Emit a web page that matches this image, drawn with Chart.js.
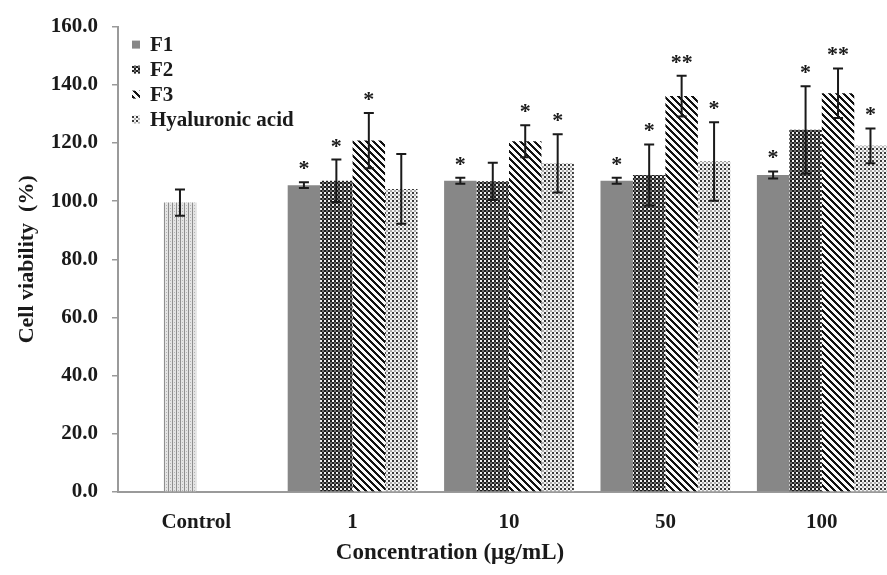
<!DOCTYPE html>
<html>
<head>
<meta charset="utf-8">
<script src="https://cdn.jsdelivr.net/npm/chart.js@4.4.1/dist/chart.umd.min.js"></script>
<style>
  html, body { margin: 0; background: #fff; overflow: hidden; }
  /* the original figure is cropped on the right, so the canvas runs a bit past the window */
  #wrap { width: 887px; height: 575px; overflow: hidden; }
</style>
</head>
<body>
<div id="wrap"><canvas id="viabilityChart" width="900" height="575"></canvas></div>
<script>
// values (mean, error, significance marks)
const categories = ["Control", "1", "10", "50", "100"];
const yTicks = [0, 20, 40, 60, 80, 100, 120, 140, 160];

const controlMean = [99.5, null, null, null, null];
const controlErr = [4.5, null, null, null, null];

const f1Mean = [null, 105.5, 107.0, 107.0, 109.0];
const f1Err = [null, 1.0, 1.0, 1.0, 1.2];
const f1Sig = ["", "*", "*", "*", "*"];

const f2Mean = [null, 107.0, 106.8, 109.0, 124.5];
const f2Err = [null, 7.3, 6.4, 10.5, 15.0];
const f2Sig = ["", "*", "", "*", "*"];

const f3Mean = [null, 120.8, 120.6, 136.1, 137.1];
const f3Err = [null, 9.5, 5.5, 7.0, 8.5];
const f3Sig = ["", "*", "*", "**", "**"];

const haMean = [null, 104.2, 113.0, 113.6, 119.0];
const haErr = [null, 12.0, 10.0, 13.5, 6.0];
const haSig = ["", "", "*", "*", "*"];

const serif = "'Liberation Serif', 'Times New Roman', serif";
const inkColor = "#1a1a1a";
const axisColor = "#9a9a9a";

function makePattern(w, h, draw) {
  const tile = document.createElement("canvas");
  tile.width = w;
  tile.height = h;
  const g = tile.getContext("2d");
  draw(g);
  return g.createPattern(tile, "repeat");
}

const f1Fill = "#878787";
const f2Fill = makePattern(4, 4, (g) => {
  g.fillStyle = "#1e1e1e";
  g.fillRect(0, 0, 4, 4);
  g.fillStyle = "#f0f0f0";
  g.fillRect(0, 0, 2, 2);
  g.fillStyle = "#6a6a6a";
  g.fillRect(2, 2, 2, 2);
});
const f3Fill = makePattern(7, 7, (g) => {
  g.fillStyle = "#fafafa";
  g.fillRect(0, 0, 7, 7);
  g.fillStyle = "#111";
  for (let y = 0; y < 7; y++) {
    for (let x = 0; x < 7; x++) {
      if (((x - y) % 7 + 7) % 7 < 3) g.fillRect(x, y, 1, 1);
    }
  }
});
const haFill = makePattern(4, 4, (g) => {
  g.fillStyle = "#f4f4f4";
  g.fillRect(0, 0, 4, 4);
  g.fillStyle = "#3a3a3a";
  g.fillRect(0, 0, 2, 2);
  g.fillStyle = "#b0b0b0";
  g.fillRect(2, 2, 2, 2);
});
const controlFill = makePattern(4, 3, (g) => {
  g.fillStyle = "#e4e4e4";
  g.fillRect(0, 0, 4, 3);
  g.fillStyle = "#8e8e8e";
  g.fillRect(0, 0, 1, 3);
  g.fillStyle = "#b4b4b4";
  g.fillRect(2, 1, 1, 1);
});

// error bars and asterisks on top of each bar
const errorBarPlugin = {
  id: "errorBars",
  afterDatasetsDraw(chart) {
    const { ctx } = chart;
    const yScale = chart.scales.y;
    ctx.save();
    ctx.strokeStyle = inkColor;
    ctx.fillStyle = inkColor;
    ctx.lineWidth = 2;
    ctx.font = "bold 22px " + serif;
    ctx.textAlign = "center";
    ctx.textBaseline = "alphabetic";
    chart.data.datasets.forEach((ds, di) => {
      const meta = chart.getDatasetMeta(di);
      ds.data.forEach((v, i) => {
        if (v === null) return;
        const bar = meta.data[i];
        const err = ds.errors[i];
        const top = yScale.getPixelForValue(v + err);
        const bottom = yScale.getPixelForValue(v - err);
        ctx.beginPath();
        ctx.moveTo(bar.x, top);
        ctx.lineTo(bar.x, bottom);
        ctx.moveTo(bar.x - 5, top);
        ctx.lineTo(bar.x + 5, top);
        ctx.moveTo(bar.x - 5, bottom);
        ctx.lineTo(bar.x + 5, bottom);
        ctx.stroke();
        const mark = ds.marks ? ds.marks[i] : "";
        if (mark) ctx.fillText(mark, bar.x, top - 7);
      });
    });
    ctx.restore();
  },
};

// legend box sitting inside the plot, top left
const innerLegendPlugin = {
  id: "innerLegend",
  afterDraw(chart) {
    const { ctx, chartArea } = chart;
    ctx.save();
    ctx.font = "bold 21px " + serif;
    ctx.textBaseline = "middle";
    ctx.textAlign = "left";
    chart.data.datasets
      .filter((ds) => ds.label !== "Control")
      .forEach((ds, i) => {
        const y = chartArea.top + 18 + i * 25;
        ctx.fillStyle = ds.backgroundColor;
        ctx.fillRect(chartArea.left + 14, y - 4, 8, 8);
        ctx.fillStyle = inkColor;
        ctx.fillText(ds.label, chartArea.left + 32, y + 1);
      });
    ctx.restore();
  },
};

new Chart(document.getElementById("viabilityChart"), {
  type: "bar",
  data: {
    labels: categories,
    datasets: [
      { label: "F1", data: f1Mean, errors: f1Err, marks: f1Sig, backgroundColor: f1Fill, stack: "s1" },
      { label: "F2", data: f2Mean, errors: f2Err, marks: f2Sig, backgroundColor: f2Fill, stack: "s2" },
      { label: "F3", data: f3Mean, errors: f3Err, marks: f3Sig, backgroundColor: f3Fill, stack: "s3" },
      { label: "Hyaluronic acid", data: haMean, errors: haErr, marks: haSig, backgroundColor: haFill, stack: "s4" },
      // control shares the F2 slot, as in the original figure
      { label: "Control", data: controlMean, errors: controlErr, backgroundColor: controlFill, stack: "s2" },
    ],
  },
  options: {
    responsive: false,
    animation: false,
    devicePixelRatio: 1,
    categoryPercentage: 0.83,
    barPercentage: 1.0,
    layout: { padding: { top: 22, right: 0, bottom: 0, left: 0 } },
    plugins: {
      legend: { display: false },
      tooltip: { enabled: false },
      // x axis title, centred on the whole figure like the original
      title: {
        display: true,
        position: "bottom",
        text: "Concentration (μg/mL)",
        color: inkColor,
        font: { family: serif, size: 23, weight: "bold", lineHeight: 1.2 },
        padding: { top: 0, bottom: 8 },
      },
    },
    scales: {
      x: {
        grid: { display: false, drawTicks: false },
        border: { display: true, color: axisColor, width: 2 },
        ticks: { color: inkColor, font: { family: serif, size: 21, weight: "bold" }, padding: 18 },
        afterFit(scale) {
          scale.height = 47.4;
        },
      },
      y: {
        min: 0,
        max: 160,
        stacked: false,
        afterBuildTicks(scale) {
          scale.ticks = yTicks.map((v) => ({ value: v }));
        },
        grid: { display: true, drawOnChartArea: false, drawTicks: true, tickLength: 6, color: axisColor, lineWidth: 1.5 },
        border: { display: true, color: axisColor, width: 2 },
        ticks: {
          color: inkColor,
          font: { family: serif, size: 21, weight: "bold" },
          padding: 14,
          callback: (v) => Number(v).toFixed(1),
        },
        title: {
          display: true,
          text: "Cell viability  (%)",
          color: inkColor,
          font: { family: serif, size: 22, weight: "bold" },
          padding: { top: 14, bottom: 0 },
        },
        afterFit(scale) {
          scale.width = 118;
        },
      },
    },
  },
  plugins: [errorBarPlugin, innerLegendPlugin],
});
</script>
</body>
</html>
